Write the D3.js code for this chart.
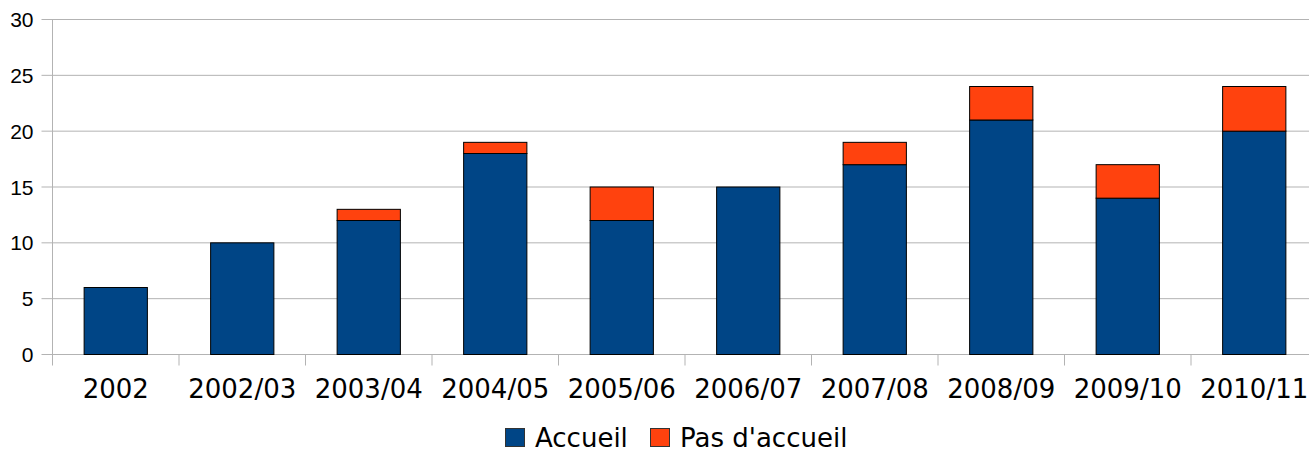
<!DOCTYPE html>
<html>
<head>
<meta charset="utf-8">
<script src="https://cdn.jsdelivr.net/npm/d3@7"></script>
<style>
  body { margin: 0; background: #fff; overflow: hidden; }
  svg { display: block; }
</style>
</head>
<body>
<div id="chart"></div>
<script>
'use strict';

// data
const years = ["2002", "2002/03", "2003/04", "2004/05", "2005/06", "2006/07", "2007/08", "2008/09", "2009/10", "2010/11"];
const accueil = [6, 10, 12, 18, 12, 15, 17, 21, 14, 20];
const pasAccueil = [0, 0, 1, 1, 3, 0, 2, 3, 3, 4];
const seriesNames = ["Accueil", "Pas d'accueil"];
const seriesColors = ["#004586", "#ff420e"];
const yTicks = [0, 5, 10, 15, 20, 25, 30];

const W = 1309, H = 452;
// the plot runs a little past the right edge of the picture, as in the original
let margin = {top: 19.5, left: 52.5};
let width = 1265,
    height = 335;

let svg = d3.select("#chart")
  .append("svg")
    .attr("width", W)
    .attr("height", H)
  .append("g")
    .attr("transform", "translate(" + margin.left + "," + margin.top + ")");

let x = d3.scaleBand()
  .domain(years)
  .range([0, width])
  .paddingInner(0.5)
  .paddingOuter(0.25);

// band of the whole category, used for ticks and labels
let xCat = d3.scaleBand()
  .domain(years)
  .range([0, width]);

let y = d3.scaleLinear()
  .domain([0, 30])
  .range([height, 0]);

// gridlines
svg.append("g")
  .selectAll("line")
  .data(yTicks)
  .enter()
  .append("line")
    .attr("x1", -11)
    .attr("x2", width)
    .attr("y1", d => y(d))
    .attr("y2", d => y(d))
    .style("stroke", "#b3b3b3")
    .style("stroke-width", 1);

// y axis line
svg.append("line")
  .attr("x1", 0).attr("x2", 0)
  .attr("y1", 0).attr("y2", height + 11)
  .style("stroke", "#b3b3b3");

// x category ticks
svg.append("g")
  .selectAll("line")
  .data(years.slice(1))
  .enter()
  .append("line")
    .attr("x1", d => xCat(d))
    .attr("x2", d => xCat(d))
    .attr("y1", height)
    .attr("y2", height + 11)
    .style("stroke", "#b3b3b3");

// y labels
svg.append("g")
  .selectAll("text")
  .data(yTicks)
  .enter()
  .append("text")
    .attr("x", -19)
    .attr("y", d => y(d) + 7.5)
    .attr("text-anchor", "end")
    .style("font-family", "'Liberation Sans', Arial, sans-serif")
    .style("font-size", "21px")
    .style("fill", "#000")
    .text(d => d);

// x labels
svg.append("g")
  .selectAll("text")
  .data(years)
  .enter()
  .append("text")
    .attr("x", d => xCat(d) + xCat.bandwidth() / 2)
    .attr("y", height + 43)
    .attr("text-anchor", "middle")
    .style("font-family", "'DejaVu Sans', sans-serif")
    .style("font-size", "26px")
    .style("fill", "#000")
    .text(d => d);

// stacked bars
let rows = years.map((yr, i) => ({year: yr, a: accueil[i], b: pasAccueil[i]}));
let stacked = d3.stack().keys(["a", "b"])(rows);

svg.append("g")
  .selectAll("g")
  .data(stacked)
  .enter()
  .append("g")
    .style("fill", (d, i) => seriesColors[i])
  .selectAll("rect")
  .data(d => d.filter(p => p[1] > p[0]))
  .enter()
  .append("rect")
    .attr("x", d => x(d.data.year))
    .attr("y", d => y(d[1]))
    .attr("width", x.bandwidth())
    .attr("height", d => y(d[0]) - y(d[1]))
    .style("stroke", "#000")
    .style("stroke-width", 1);

// legend
let legend = d3.select("svg").append("g");
let legendX = [505, 650];
seriesNames.forEach((name, i) => {
  legend.append("rect")
    .attr("x", legendX[i] + 0.5)
    .attr("y", 428.5)
    .attr("width", 19)
    .attr("height", 18)
    .style("fill", seriesColors[i])
    .style("stroke", "#333")
    .style("stroke-width", 1);
  legend.append("text")
    .attr("x", legendX[i] + 30)
    .attr("y", 447)
    .style("font-family", "'DejaVu Sans', sans-serif")
    .style("font-size", "26px")
    .style("fill", "#000")
    .text(name);
});
</script>
</body>
</html>
